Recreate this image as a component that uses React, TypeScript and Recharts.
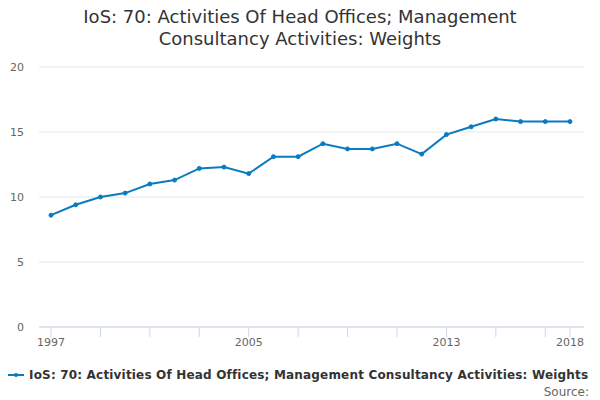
import React from "react";
import { LineChart, Line, XAxis, YAxis, CartesianGrid } from "recharts";

const years = [1997, 1998, 1999, 2000, 2001, 2002, 2003, 2004, 2005, 2006, 2007, 2008, 2009, 2010, 2011, 2012, 2013, 2014, 2015, 2016, 2017, 2018];
const weights = [8.6, 9.4, 10.0, 10.3, 11.0, 11.3, 12.2, 12.3, 11.8, 13.1, 13.1, 14.1, 13.7, 13.7, 14.1, 13.3, 14.8, 15.4, 16.0, 15.8, 15.8, 15.8];
const xTicks = [1997, 1999, 2001, 2003, 2005, 2007, 2009, 2011, 2013, 2015, 2017, 2018];
const xLabels = [1997, 2005, 2013, 2018];
const yTicks = [0, 5, 10, 15, 20];
const seriesName = "IoS: 70: Activities Of Head Offices; Management Consultancy Activities: Weights";
const titleLines = ["IoS: 70: Activities Of Head Offices; Management", "Consultancy Activities: Weights"];

const data = years.map((y, i) => ({ year: y, value: weights[i] }));
const COLOR = "#0a7bc1";
const FONT = "'DejaVu Sans', sans-serif";

export default function App() {
  return (
    <div style={{ position: "absolute", left: 0, top: 0, width: 600, height: 400, background: "#fff", fontFamily: FONT }}>
      <div style={{ position: "absolute", left: 0, top: 6, width: 600, textAlign: "center", fontSize: 18, lineHeight: "22px", color: "#333" }}>
        {titleLines.map((l) => (
          <div key={l}>{l}</div>
        ))}
      </div>
      <LineChart width={600} height={400} data={data} margin={{ top: 67, right: 16, left: 0, bottom: 43 }}>
        <CartesianGrid horizontal vertical={false} stroke="#e6e6e6" />
        <XAxis
          dataKey="year"
          type="number"
          domain={[1997, 2018]}
          ticks={xTicks}
          interval={0}
          tickFormatter={(v) => (xLabels.includes(v) ? String(v) : "")}
          padding={{ left: 12, right: 14 }}
          height={30}
          tickSize={10}
          tickMargin={1}
          stroke="#ccd6eb"
          tick={{ fill: "#666", fontSize: 11, fontFamily: FONT }}
        />
        <YAxis
          domain={[0, 20]}
          ticks={yTicks}
          width={39}
          axisLine={false}
          tickLine={false}
          tickSize={0}
          tickMargin={15}
          tick={{ fill: "#666", fontSize: 11, fontFamily: FONT }}
        />
        <Line
          type="linear"
          dataKey="value"
          name={seriesName}
          stroke={COLOR}
          strokeWidth={2}
          dot={{ r: 2, fill: COLOR, stroke: COLOR, strokeWidth: 1 }}
          isAnimationActive={false}
        />
      </LineChart>
      <div style={{ position: "absolute", left: 8, top: 368, display: "flex", alignItems: "center", whiteSpace: "nowrap" }}>
        <svg width={16} height={10} style={{ marginRight: 5 }}>
          <line x1={0} y1={5} x2={16} y2={5} stroke={COLOR} strokeWidth={2} />
          <circle cx={8} cy={5} r={2} fill={COLOR} />
        </svg>
        <span style={{ fontSize: 12, fontWeight: "bold", color: "#333", letterSpacing: 0.18 }}>{seriesName}</span>
      </div>
      <div style={{ position: "absolute", right: 11, top: 385, fontSize: 12, color: "#666" }}>Source:</div>
    </div>
  );
}
